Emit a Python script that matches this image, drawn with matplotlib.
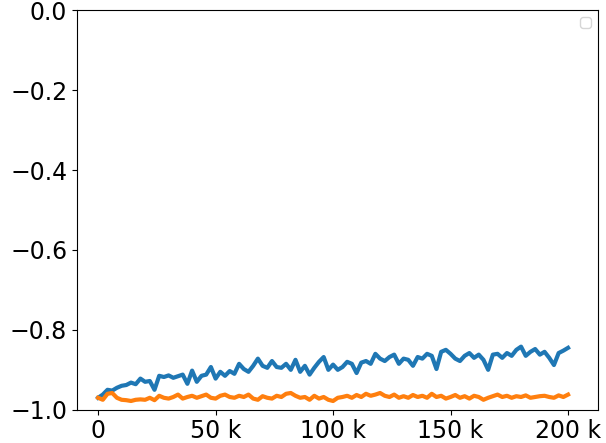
import numpy as np
import matplotlib
matplotlib.use("Agg")
import matplotlib.pyplot as plt
from matplotlib.ticker import EngFormatter

# training steps (every 2k)
steps = np.arange(0, 200001, 2000)

blue_vals = [-0.970, -0.962, -0.950, -0.952, -0.945, -0.940, -0.938, -0.932, -0.936, -0.922,
             -0.930, -0.928, -0.950, -0.915, -0.918, -0.914, -0.920, -0.916, -0.912, -0.935,
             -0.902, -0.930, -0.915, -0.912, -0.893, -0.922, -0.905, -0.915, -0.903, -0.910,
             -0.885, -0.898, -0.905, -0.890, -0.872, -0.890, -0.895, -0.878, -0.893, -0.895,
             -0.885, -0.900, -0.875, -0.905, -0.890, -0.912, -0.895, -0.880, -0.868, -0.900,
             -0.887, -0.900, -0.893, -0.880, -0.885, -0.908, -0.882, -0.878, -0.885, -0.860,
             -0.872, -0.878, -0.868, -0.862, -0.885, -0.872, -0.875, -0.890, -0.868, -0.872,
             -0.860, -0.865, -0.898, -0.855, -0.850, -0.860, -0.872, -0.878, -0.865, -0.858,
             -0.870, -0.862, -0.875, -0.900, -0.862, -0.860, -0.870, -0.858, -0.865, -0.850,
             -0.842, -0.865, -0.855, -0.848, -0.862, -0.855, -0.870, -0.888, -0.858, -0.852,
             -0.845]

orange_vals = [-0.970, -0.975, -0.960, -0.958, -0.970, -0.975, -0.976, -0.978, -0.975, -0.974,
               -0.975, -0.970, -0.976, -0.965, -0.970, -0.972, -0.968, -0.962, -0.972, -0.968,
               -0.965, -0.970, -0.966, -0.962, -0.970, -0.972, -0.965, -0.962, -0.968, -0.970,
               -0.965, -0.968, -0.962, -0.972, -0.975, -0.966, -0.970, -0.972, -0.965, -0.968,
               -0.960, -0.958, -0.965, -0.970, -0.968, -0.975, -0.965, -0.972, -0.968, -0.975,
               -0.978, -0.970, -0.968, -0.965, -0.970, -0.963, -0.968, -0.960, -0.965, -0.962,
               -0.958, -0.965, -0.968, -0.962, -0.970, -0.966, -0.970, -0.963, -0.968, -0.965,
               -0.970, -0.960, -0.968, -0.965, -0.972, -0.968, -0.963, -0.970, -0.966, -0.972,
               -0.965, -0.968, -0.975, -0.970, -0.966, -0.962, -0.968, -0.965, -0.970, -0.966,
               -0.968, -0.964, -0.970, -0.968, -0.966, -0.965, -0.968, -0.970, -0.964, -0.968,
               -0.962]

plt.rcParams['font.size'] = 17

fig = plt.figure(figsize=(6.06, 4.43), dpi=100)
ax = fig.add_axes([0.127, 0.075, 0.86, 0.902])

ax.plot(steps, blue_vals, color='tab:blue', linewidth=3)
ax.plot(steps, orange_vals, color='tab:orange', linewidth=3)

ax.set_ylim(-1.0, 0.0)
ax.set_xlim(-9000, 212800)
ax.xaxis.set_major_formatter(EngFormatter())
ax.legend(handles=[], loc='upper right', fontsize=10)

fig.savefig("out.png", dpi=100)
